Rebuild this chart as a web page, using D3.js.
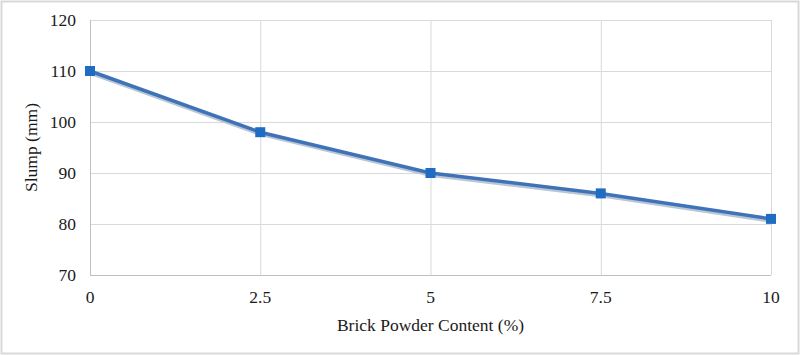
<!DOCTYPE html>
<html><head><meta charset="utf-8">
<script src="https://cdn.jsdelivr.net/npm/d3@7"></script>
<style>body{margin:0;background:#fff}svg{display:block}</style>
</head><body><svg id="c" width="800" height="355"></svg>
<script>
const xValues = [0, 2.5, 5, 7.5, 10];
const slump = [110, 98, 90, 86, 81];
const yTicks = [70, 80, 90, 100, 110, 120];
const xTickLabels = ["0", "2.5", "5", "7.5", "10"];

const svg = d3.select("#c");
const m = {l: 90, r: 771, t: 20, b: 275};
const font = "'Liberation Serif','Times New Roman',serif";
const fs = 17.5;
svg.append("rect").attr("x",1.5).attr("y",1.5).attr("width",797).attr("height",352)
  .attr("fill","#fff").attr("stroke","#d9d9d9").attr("stroke-width",2);

const x = d3.scaleLinear().domain([0,10]).range([m.l,m.r]);
const y = d3.scaleLinear().domain([70,120]).range([m.b,m.t]);

const g = svg.append("g");
g.selectAll("line.h").data(yTicks).join("line")
  .attr("x1",m.l).attr("x2",m.r).attr("y1",d=>y(d)+0.5).attr("y2",d=>y(d)+0.5)
  .attr("stroke","#d9d9d9").attr("stroke-width",1);
g.selectAll("line.v").data(xValues).join("line")
  .attr("y1",m.t).attr("y2",m.b).attr("x1",d=>x(d)+0.5).attr("x2",d=>x(d)+0.5)
  .attr("stroke","#d9d9d9").attr("stroke-width",1);
g.append("line").attr("x1",m.l+0.5).attr("x2",m.l+0.5).attr("y1",m.t).attr("y2",m.b).attr("stroke","#bfbfbf");
g.append("line").attr("x1",m.l).attr("x2",m.r).attr("y1",m.b+0.5).attr("y2",m.b+0.5).attr("stroke","#bfbfbf");

g.selectAll("text.yt").data(yTicks).join("text")
  .attr("x",76).attr("y",d=>y(d)).attr("dy","0.35em").attr("text-anchor","end")
  .attr("font-family",font).attr("font-size",fs).attr("fill","#1a1a1a").text(d=>d);
g.selectAll("text.xt").data(xValues).join("text")
  .attr("x",d=>x(d)).attr("y",303).attr("text-anchor","middle")
  .attr("font-family",font).attr("font-size",fs).attr("fill","#1a1a1a").text((d,i)=>xTickLabels[i]);

svg.append("text").attr("x",(m.l+m.r)/2).attr("y",331).attr("text-anchor","middle")
  .attr("font-family",font).attr("font-size",fs).attr("fill","#1a1a1a").text("Brick Powder Content (%)");
svg.append("text").attr("transform",`translate(37,${(m.t+m.b)/2}) rotate(-90)`).attr("text-anchor","middle")
  .attr("font-family",font).attr("font-size",fs).attr("fill","#1a1a1a").text("Slump (mm)");

const data = xValues.map((v,i)=>({x:v,y:slump[i]}));
const line = d3.line().x(d=>x(d.x)).y(d=>y(d.y));
svg.append("path").datum(data).attr("d",line).attr("fill","none")
  .attr("stroke","#b9c6d6").attr("stroke-width",4).attr("transform","translate(1,2)");
svg.append("path").datum(data).attr("d",line).attr("fill","none")
  .attr("stroke","#3f73b8").attr("stroke-width",3.5);
svg.selectAll("rect.pt").data(data).join("rect")
  .attr("x",d=>x(d.x)-5).attr("y",d=>y(d.y)-5).attr("width",10).attr("height",10)
  .attr("fill","#1f6dc2");
</script></body></html>
